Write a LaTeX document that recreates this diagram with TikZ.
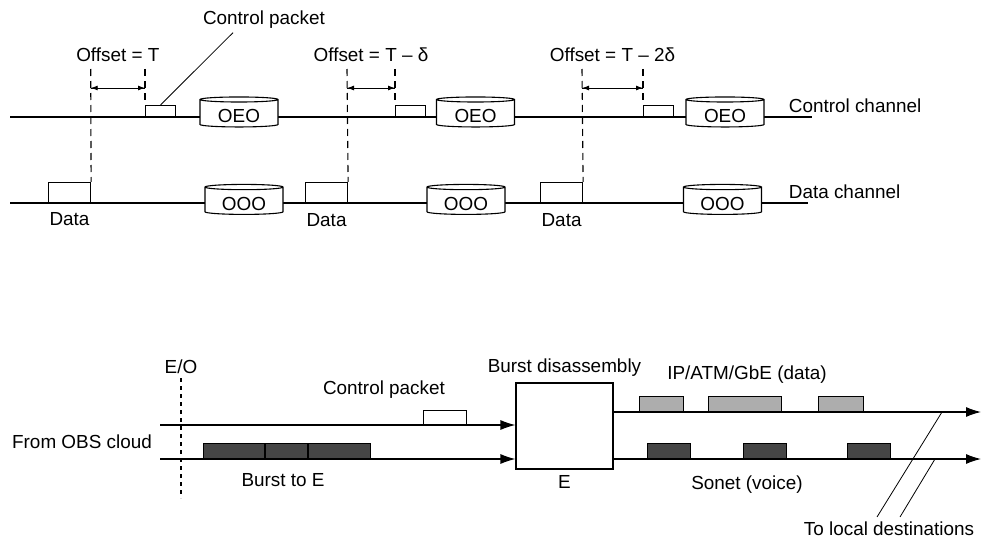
\documentclass[tikz,border=0pt]{standalone}
\usepackage{fontspec}
\setmainfont{Liberation Sans}
\usetikzlibrary{shapes.geometric,arrows.meta,calc}

\begin{document}
\begin{tikzpicture}[x=1pt,y=-1pt,line width=1.1pt,
  font=\fontsize{18.9}{22}\selectfont,
  cyl/.style={cylinder,shape border rotate=90,aspect=0.12,draw,fill=white,
    minimum width=78pt,minimum height=30pt,inner sep=0pt},
  ctrlpkt/.style={draw,fill=white,anchor=south west,minimum width=30pt,
    minimum height=11pt,inner sep=0pt},
  datapkt/.style={draw,fill=white,anchor=south west,minimum width=42pt,
    minimum height=20pt,inner sep=0pt},
  pkt/.style={draw,anchor=south west,minimum height=15pt,inner sep=0pt},
  offdash/.style={dash pattern=on 7pt off 5pt},
  tick/.style={-{Latex[length=7pt,width=5pt]}},
  ]
  \tikzset{>={Latex[length=15pt,width=10pt]}}
  \useasboundingbox (0,0) rectangle (982,543);

  \coordinate (CtrlStart) at (10,117);
  \coordinate (CtrlEnd) at (812,117);
  \coordinate (DataStart) at (10,203);
  \coordinate (DataEnd) at (808,203);
  \draw (CtrlStart) -- (CtrlEnd);
  \draw (DataStart) -- (DataEnd);
  \node [anchor=west] (CtrlChanLabel) at (785,106) {Control channel};
  \node [anchor=west] (DataChanLabel) at (785,192) {Data channel};

  \foreach \i/\dx/\cx/\eo/\oo/\dp/\lab in {
      1/90.7/145/239/244/48/{Offset = T},
      2/347/395/475.5/466/305/{Offset = T – δ},
      3/582/643/725/722.5/540/{Offset = T – 2δ}} {
    \node [ctrlpkt] (CtrlPkt\i) at (\cx,117) {};
    \node [datapkt] (DataPkt\i) at (\dp,203) {};
    \node [cyl] (OEO\i) at (\eo,113.5) {\raisebox{-5pt}{OEO}};
    \node [cyl] (OOO\i) at (\oo,201) {\raisebox{-5pt}{OOO}};
    \node [below=6pt] (DataLabel\i) at (DataPkt\i.south) {Data};
    \coordinate (OffTop\i) at (\dx,69);
    \coordinate (CtrlTop\i) at (\cx,69);
    \coordinate (ArrL\i) at (\dx,88);
    \coordinate (ArrR\i) at (\cx,88);
    \draw [offdash] (OffTop\i) -- (DataPkt\i.north east);
    \draw [offdash] (CtrlTop\i) -- (CtrlPkt\i.north west);
    \draw [tick, line width=0.9pt] (ArrL\i) -- (ArrR\i);
    \draw [tick, line width=0.9pt] (ArrR\i) -- (ArrL\i);
    \node (OffLabel\i) at ($(\dx,55)!0.5!(\cx,55)$) {\lab};
  }
  \node (CtrlPktLabel) at (264,20) {Control packet};
  \draw [line width=0.8pt] ([xshift=-31pt]CtrlPktLabel.south) -- (CtrlPkt1.north);

  % edge node
  \node [draw, minimum width=97pt, minimum height=86pt, inner sep=0pt] (EBox) at (564.5,426) {};
  \node [above=2pt] (DisLabel) at (EBox.north) {Burst disassembly};
  \node [below=2pt] (ELabel) at (EBox.south) {E};

  \coordinate (InCtrl) at (160,425);
  \coordinate (InData) at (160,459);
  \draw [->] (InCtrl) -- (InCtrl -| EBox.west);
  \draw [->] (InData) -- (InData -| EBox.west);
  \coordinate (EOTop) at (181,378);
  \coordinate (EOBot) at (181,498);
  \draw [dash pattern=on 4pt off 4pt] (EOTop) -- (EOBot);
  \node [above] (EOLabel) at (EOTop) {E/O};
  \node (OBSLabel) at (82,442) {From OBS cloud};

  \node [pkt, fill=white, minimum width=43pt, minimum height=14pt] (InCtrlPkt) at (423,425) {};
  \node (InCtrlLabel) at (384,390) {Control packet};
  \node [pkt, fill=black!73, minimum width=167pt] (Burst) at (203,459) {};
  \draw ([xshift=62pt]Burst.south west) -- ([xshift=62pt]Burst.north west);
  \draw ([xshift=105pt]Burst.south west) -- ([xshift=105pt]Burst.north west);
  \node (BurstLabel) at (283,480) {Burst to E};

  \coordinate (OutData) at (981,412);
  \coordinate (OutVoice) at (981,459);
  \draw [->] (EBox.east |- OutData) -- (OutData);
  \draw [->] (EBox.east |- OutVoice) -- (OutVoice);
  \foreach \i/\x/\w in {1/639/44, 2/708/73, 3/818/45} {
    \node [pkt, fill=black!32, minimum width=\w pt] (IPPkt\i) at (\x,412) {};
  }
  \foreach \i/\x in {1/647, 2/743, 3/847} {
    \node [pkt, fill=black!73, minimum width=43pt] (SonetPkt\i) at (\x,459) {};
  }
  \node (IPLabel) at (747,375) {IP/ATM/GbE (data)};
  \node (SonetLabel) at (747,485) {Sonet (voice)};

  \node (LocalLabel) at (889,529) {To local destinations};
  \coordinate (Slash1a) at (877,517);
  \coordinate (Slash1b) at (942,412);
  \coordinate (Slash2a) at (900,517);
  \coordinate (Slash2b) at (935,459);
  \draw [line width=0.8pt] (Slash1a) -- (Slash1b);
  \draw [line width=0.8pt] (Slash2a) -- (Slash2b);
\end{tikzpicture}
\end{document}
